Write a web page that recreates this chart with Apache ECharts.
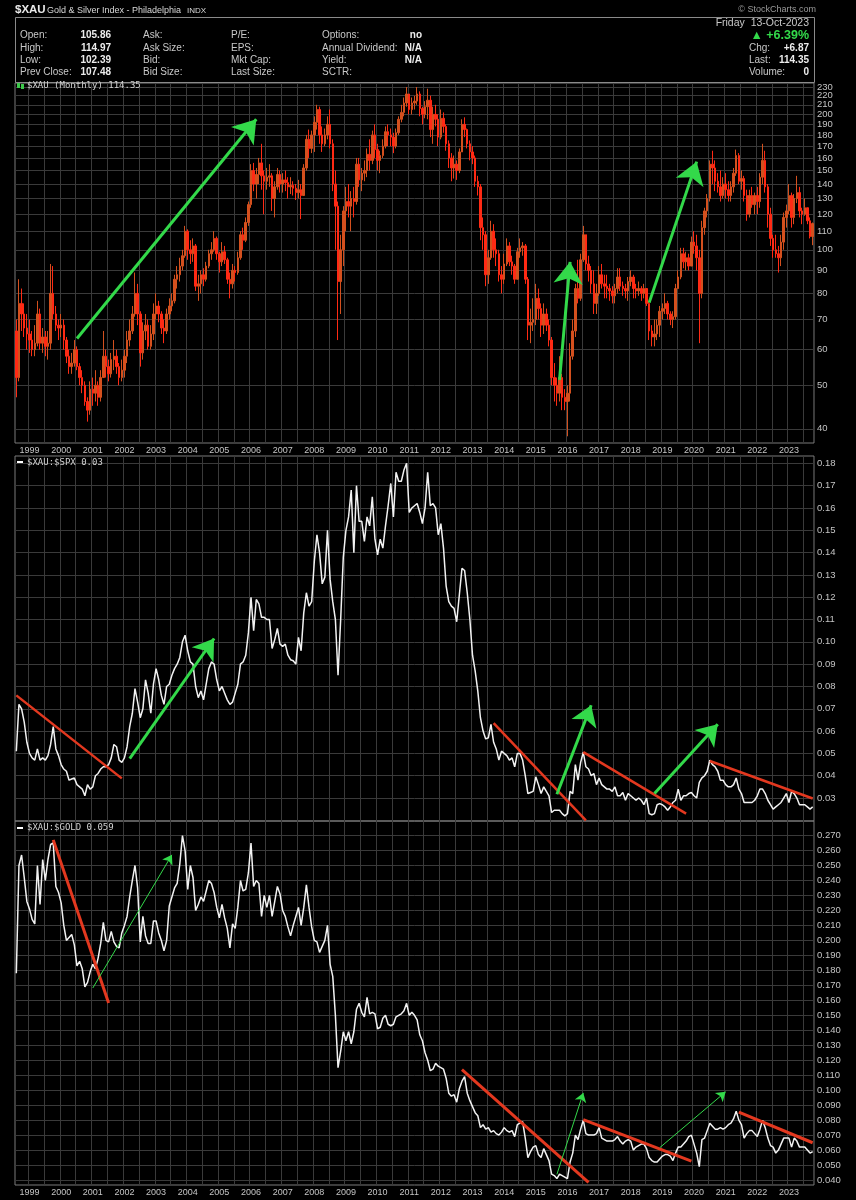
<!DOCTYPE html>
<html><head><meta charset="utf-8">
<script src="https://cdn.jsdelivr.net/npm/echarts@6/dist/echarts.min.js"></script>
<style>html,body{margin:0;padding:0;background:#000;}#c{width:856px;height:1200px;}</style>
</head><body><div id="c"></div><script>
// ---- categories: monthly bars, Aug 1998 .. Oct 2023 ----
const START_YEAR = 1998, START_MONTH = 8, N_MONTHS = 303;
const months = [];
for (let k = 0; k < N_MONTHS; k++) {
  const m = START_MONTH - 1 + k;
  const y = START_YEAR + Math.floor(m / 12), mm = m % 12 + 1;
  months.push(y + '-' + (mm < 10 ? '0' : '') + mm);
}
// ---- $XAU monthly candles (open = previous close) ----
const firstOpen = 66;
const xauClose = [
 52,76,72,67,65,
 63,60,62,72,62,64,61,62,80,72,68,67,
 68,63,58,55,56,60,55,52,50,46,44,49,
 48,50,47,52,58,55,53,57,58,55,52,54,
 58,63,66,72,80,72,59,66,68,61,65,72,
 75,72,67,66,72,75,77,86,88,92,97,110,
 100,98,102,83,84,88,86,92,98,100,106,98,
 94,99,95,86,84,90,89,96,108,105,115,126,
 150,140,147,156,146,142,145,146,130,138,147,140,
 143,141,138,139,137,134,136,132,152,176,168,180,
 192,205,180,172,180,190,172,140,125,85,100,122,
 128,125,130,128,155,143,148,150,163,158,180,167,
 158,162,170,183,180,178,170,182,195,202,212,222,
 205,212,214,222,206,200,208,215,185,200,195,178,
 196,188,172,160,152,155,150,165,190,185,172,165,
 160,142,138,112,108,88,96,110,100,98,88,86,
 93,102,94,92,86,99,101,102,86,68,69,70,
 78,74,68,72,68,63,52,50,48,52,47,46,
 48,58,66,82,78,95,108,93,90,84,76,80,
 88,84,83,82,81,79,82,87,83,82,81,85,
 87,82,81,82,80,82,76,66,64,65,68,73,
 74,76,72,70,71,82,87,98,94,96,92,104,
 102,96,80,112,122,130,155,152,142,138,132,140,
 136,132,138,148,162,142,144,132,120,132,126,132,
 128,145,158,138,120,106,100,98,96,104,118,122,
 132,118,130,134,122,120,124,116,107,114.35
];
const xauHigh = [
 70,86,82,76,72,
 70,66,68,77,74,67,66,66,93,92,75,70,
 72,70,64,60,59,63,61,56,54,51,47,51,
 52,54,51,54,66,60,57,59,63,60,56,57,
 60,66,70,75,89,84,73,69,72,70,68,76,
 80,77,73,70,74,78,80,88,92,96,100,113,
 111,105,106,103,88,90,91,94,100,104,110,107,
 99,104,102,96,89,93,92,99,110,112,118,128,
 155,156,152,160,172,150,152,155,148,142,152,150,
 148,150,145,145,142,140,143,140,155,180,185,184,
 198,210,208,188,186,198,205,176,150,128,108,125,
 138,140,135,138,160,160,152,158,168,176,184,190,
 172,166,176,188,190,186,182,186,198,210,218,230,
 222,218,220,230,225,208,214,228,220,208,210,200,
 205,202,190,175,164,162,158,168,195,197,186,175,
 170,162,146,140,118,110,100,116,114,106,100,92,
 98,106,104,97,93,101,106,104,103,87,74,78,
 84,82,76,76,74,70,64,56,52,58,53,49,
 50,62,70,84,95,98,113,108,97,92,90,84,
 92,93,88,88,84,83,84,91,91,85,84,87,
 90,88,84,85,83,84,82,77,68,70,70,75,
 76,80,77,73,73,84,90,101,101,99,98,107,
 110,108,100,116,124,133,158,166,158,148,150,145,
 148,142,142,152,167,164,150,146,136,136,138,134,
 138,148,172,166,140,124,108,108,102,108,121,126,
 140,134,133,146,138,124,130,124,118,114.97
];
const xauLow = [
 47,51,66,64,60,
 59,58,58,61,60,59,58,57,60,70,66,63,
 64,60,56,53,53,55,54,50,48,45,41.5,43,
 45,46,45,46,52,52,51,52,54,53,50,51,
 52,56,61,65,71,68,55,57,63,60,60,63,
 70,69,65,62,65,70,73,76,82,85,90,96,
 95,93,94,81,77,80,83,85,91,95,99,95,
 89,92,93,84,78,82,85,88,95,100,104,113,
 124,135,130,140,136,120,136,138,122,118,136,134,
 134,135,130,133,132,129,130,117,132,150,160,164,
 165,185,172,165,170,176,168,135,100,63,72,92,
 110,118,110,118,126,138,135,142,145,150,155,160,
 150,148,160,168,170,170,164,168,180,192,198,208,
 200,200,205,210,198,190,196,195,178,172,188,170,
 176,182,166,152,142,144,143,148,165,178,168,158,
 155,138,132,105,100,83,84,95,96,92,85,80,
 84,92,92,88,84,86,96,97,84,63,62,66,
 68,70,64,65,66,61,50,46,45,46,44,44,
 38.5,46,57,64,76,77,94,90,85,80,72,72,
 79,82,78,78,77,76,76,80,81,79,78,77,
 83,78,78,79,77,78,75,63,61,61,63,64,
 70,72,70,68,67,70,82,86,91,90,90,92,
 98,90,62,78,108,118,128,140,135,134,128,130,
 130,128,128,134,146,140,136,128,116,118,124,120,
 120,124,140,134,112,102,96,96,89,92,100,112,
 120,112,114,127,118,114,119,114,106,102.39
];
// ---- $XAU:$SPX ratio ----
const xauSpx = [
 0.051,0.072,0.070,0.064,0.055,
 0.050,0.048,0.047,0.052,0.047,0.048,0.047,0.049,0.054,0.062,0.052,0.049,
 0.045,0.043,0.042,0.038,0.0385,0.039,0.036,0.035,0.034,0.031,0.036,0.034,
 0.035,0.040,0.041,0.043,0.044,0.044,0.045,0.048,0.054,0.053,0.047,0.046,
 0.048,0.053,0.062,0.068,0.079,0.073,0.066,0.070,0.083,0.077,0.068,0.081,
 0.088,0.083,0.076,0.072,0.080,0.081,0.085,0.088,0.090,0.093,0.100,0.103,
 0.096,0.091,0.090,0.080,0.075,0.078,0.074,0.081,0.088,0.091,0.090,0.083,
 0.078,0.080,0.077,0.074,0.072,0.073,0.077,0.081,0.090,0.091,0.094,0.104,
 0.120,0.105,0.119,0.117,0.111,0.111,0.110,0.110,0.097,0.101,0.106,0.099,
 0.098,0.099,0.094,0.092,0.0915,0.090,0.102,0.096,0.113,0.122,0.116,0.118,
 0.136,0.148,0.140,0.126,0.129,0.150,0.128,0.118,0.110,0.085,0.110,0.138,
 0.150,0.156,0.168,0.140,0.170,0.154,0.154,0.145,0.156,0.152,0.165,0.146,
 0.139,0.146,0.142,0.152,0.161,0.171,0.156,0.176,0.172,0.172,0.177,0.180,
 0.158,0.160,0.161,0.162,0.158,0.153,0.160,0.176,0.161,0.162,0.160,0.148,
 0.153,0.142,0.125,0.118,0.116,0.115,0.109,0.121,0.133,0.132,0.122,0.110,
 0.094,0.087,0.078,0.066,0.060,0.0565,0.057,0.063,0.055,0.052,0.047,0.051,
 0.050,0.049,0.047,0.048,0.044,0.050,0.050,0.047,0.040,0.032,0.0325,0.033,
 0.0395,0.036,0.032,0.035,0.033,0.031,0.0235,0.0245,0.0245,0.0245,0.023,0.022,
 0.023,0.033,0.032,0.045,0.038,0.046,0.0505,0.044,0.043,0.040,0.041,0.036,
 0.039,0.036,0.035,0.034,0.034,0.033,0.035,0.031,0.031,0.0325,0.029,0.032,
 0.031,0.030,0.029,0.030,0.029,0.027,0.030,0.023,0.0225,0.023,0.027,0.0275,
 0.027,0.026,0.0245,0.026,0.028,0.029,0.034,0.029,0.031,0.031,0.032,0.0325,
 0.031,0.030,0.037,0.039,0.040,0.042,0.047,0.045,0.044,0.042,0.038,0.038,
 0.036,0.035,0.035,0.036,0.039,0.034,0.032,0.028,0.028,0.028,0.028,0.029,
 0.031,0.034,0.034,0.032,0.029,0.027,0.025,0.026,0.027,0.028,0.030,0.032,
 0.028,0.033,0.032,0.030,0.027,0.027,0.027,0.026,0.025,0.026
];
// ---- $XAU:$GOLD ratio ----
const xauGold = [
 0.178,0.250,0.257,0.242,0.226,
 0.221,0.214,0.211,0.250,0.224,0.254,0.240,0.254,0.264,0.265,0.236,0.232,
 0.225,0.210,0.200,0.202,0.204,0.197,0.183,0.186,0.181,0.169,0.172,0.179,
 0.184,0.181,0.188,0.198,0.212,0.200,0.199,0.206,0.199,0.196,0.195,0.205,
 0.210,0.216,0.229,0.240,0.250,0.235,0.199,0.216,0.203,0.198,0.198,0.213,
 0.213,0.205,0.200,0.193,0.200,0.223,0.229,0.235,0.238,0.251,0.270,0.260,
 0.234,0.250,0.242,0.220,0.224,0.229,0.226,0.233,0.240,0.238,0.232,0.222,
 0.215,0.224,0.215,0.208,0.195,0.211,0.208,0.222,0.240,0.233,0.234,0.245,
 0.265,0.236,0.240,0.238,0.216,0.230,0.222,0.230,0.216,0.226,0.236,0.231,
 0.220,0.216,0.209,0.203,0.210,0.216,0.222,0.210,0.222,0.237,0.222,0.209,
 0.200,0.199,0.192,0.196,0.200,0.210,0.184,0.176,0.150,0.115,0.126,0.139,
 0.133,0.139,0.131,0.139,0.154,0.158,0.152,0.149,0.162,0.151,0.152,0.151,
 0.141,0.142,0.148,0.150,0.144,0.143,0.144,0.149,0.150,0.151,0.153,0.158,
 0.150,0.152,0.150,0.147,0.137,0.133,0.125,0.120,0.113,0.114,0.118,0.116,
 0.115,0.114,0.108,0.098,0.096,0.097,0.092,0.101,0.106,0.109,0.098,0.093,
 0.089,0.085,0.083,0.075,0.077,0.074,0.075,0.072,0.073,0.071,0.070,0.072,
 0.075,0.073,0.072,0.073,0.069,0.077,0.078,0.079,0.068,0.055,0.059,0.062,
 0.063,0.057,0.055,0.061,0.057,0.053,0.044,0.043,0.041,0.044,0.043,0.042,
 0.041,0.052,0.058,0.070,0.067,0.074,0.080,0.071,0.070,0.070,0.070,0.071,
 0.075,0.068,0.067,0.066,0.066,0.066,0.067,0.069,0.066,0.064,0.066,0.067,
 0.066,0.060,0.062,0.063,0.064,0.064,0.061,0.055,0.053,0.052,0.052,0.054,
 0.056,0.057,0.057,0.056,0.053,0.058,0.062,0.062,0.064,0.066,0.069,0.070,
 0.064,0.058,0.049,0.067,0.068,0.073,0.078,0.076,0.074,0.074,0.075,0.074,
 0.075,0.077,0.078,0.081,0.086,0.080,0.077,0.068,0.071,0.073,0.073,0.071,
 0.069,0.074,0.080,0.075,0.068,0.063,0.062,0.058,0.060,0.064,0.068,0.068,
 0.068,0.062,0.068,0.066,0.062,0.062,0.062,0.060,0.058,0.059
];
// ---- axis tick labels ----
const priceTicks = [40,50,60,70,80,90,100,110,120,130,140,150,160,170,180,190,200,210,220,230];
const spxTicks = [0.03,0.04,0.05,0.06,0.07,0.08,0.09,0.10,0.11,0.12,0.13,0.14,0.15,0.16,0.17,0.18];
const goldTicks = [0.04,0.05,0.06,0.07,0.08,0.09,0.10,0.11,0.12,0.13,0.14,0.15,0.16,0.17,0.18,0.19,0.20,0.21,0.22,0.23,0.24,0.25,0.26,0.27];
// ---- annotations (start [month, value], end [month, value]) ----
const priceArrows = [
  [['2000-07', 63.5], ['2006-03', 195]],
  [['2015-10', 51.4], ['2016-02', 94]],
  [['2018-08', 76.3], ['2020-02', 157]]
];
const spxRedLines = [
  [['1998-08', 0.076], ['2001-12', 0.0388]],
  [['2013-09', 0.0636], ['2016-08', 0.020]],
  [['2016-07', 0.0506], ['2019-10', 0.023]],
  [['2020-07', 0.0466], ['2023-10', 0.0298]]
];
const spxArrows = [
  [['2002-03', 0.0477], ['2004-11', 0.1015]],
  [['2015-09', 0.0317], ['2016-10', 0.0716]],
  [['2018-10', 0.032], ['2020-10', 0.0631]]
];
const goldRedLines = [
  [['1999-10', 0.2671], ['2001-07', 0.1582]],
  [['2012-09', 0.1138], ['2016-09', 0.0385]],
  [['2016-07', 0.0804], ['2019-12', 0.0527]],
  [['2021-06', 0.0853], ['2023-10', 0.0649]]
];
const goldArrows = [
  [['2001-01', 0.1682], ['2003-07', 0.2571]],
  [['2015-09', 0.0438], ['2016-07', 0.0982]],
  [['2018-12', 0.0616], ['2021-01', 0.0989]]
];

const candles = xauClose.map((c, i) => [i === 0 ? firstOpen : xauClose[i - 1], c, xauLow[i], xauHigh[i]]);

const GREEN = '#33d94a', RED = '#e3381f', GRID = '#3a3a3a', AXT = '#c4c4c4';
function segs(list, color, width, headSize) {
  return list.map(s => [
    { coord: s[0], symbol: 'none', lineStyle: { color, width, type: 'solid' } },
    { coord: s[1], symbol: headSize ? 'arrow' : 'none', symbolSize: headSize || 0 }
  ]);
}
function mk(data) {
  return { silent: true, animation: false, label: { show: false }, lineStyle: { type: 'solid' },
    emphasis: { disabled: true }, symbol: ['none', 'none'], data };
}
// price-axis labels, placed at their log-scale values via transparent horizontal mark lines
const priceLabelLines = priceTicks.map(v => ({
  yAxis: v, symbol: 'none', lineStyle: { color: 'rgba(0,0,0,0)', width: 1 },
  label: { show: true, position: 'end', distance: 3, formatter: String(v), color: AXT,
    fontSize: 9.5, fontFamily: 'Liberation Sans' }
}));
function xAxis(gi, showLabel) {
  return {
    type: 'category', gridIndex: gi, data: months, boundaryGap: true,
    axisLine: { show: false }, axisTick: { show: false },
    axisLabel: { show: showLabel, interval: (i, v) => v.endsWith('-01'), formatter: v => v.slice(0, 4),
      color: AXT, fontSize: 9, margin: 3, fontFamily: 'Liberation Sans' },
    splitLine: { show: true, interval: (i, v) => v.endsWith('-01') || v.endsWith('-07'),
      lineStyle: { color: GRID, width: 1 } }
  };
}
function yAxis(gi, opts, ticks, fmt, showLabel) {
  return Object.assign({
    gridIndex: gi, position: 'right', scale: true,
    axisLine: { show: false },
    axisTick: { show: false, customValues: ticks },
    axisLabel: { show: showLabel, customValues: ticks, formatter: fmt, color: AXT, fontSize: 9.5, margin: 3,
      fontFamily: 'Liberation Sans', hideOverlap: false },
    splitLine: { show: true, lineStyle: { color: GRID, width: 1 } }
  }, opts);
}

const F = (s, w) => (w || '') + ' ' + s + 'px "Liberation Sans"';
const T = (x, y, text, st) => ({ type: 'text', x, y, silent: true, z: 100,
  style: Object.assign({ text, fill: '#c8c8c8', font: F(10), align: 'left', verticalAlign: 'middle' }, st || {}) });
const B = '#ececec';
const bold = { fill: B, font: F(10, 'bold'), align: 'right' };
const graphic = [
  T(15, 10, '$XAU', { fill: '#e8e8e8', font: F(11.5, 'bold') }),
  T(47, 11, 'Gold & Silver Index - Philadelphia', { font: F(9), fill: '#d8d8d8' }),
  T(187, 11, 'INDX', { font: F(8), fill: '#d8d8d8' }),
  T(816, 10, '© StockCharts.com', { font: F(9), fill: '#9a9a9a', align: 'right' }),
  { type: 'rect', shape: { x: 15.5, y: 17.5, width: 799, height: 65 }, silent: true, z: 100,
    style: { fill: 'none', stroke: '#8a8a8a', lineWidth: 1 } },
  T(20, 35, 'Open:'), T(111, 35, '105.86', bold),
  T(20, 48, 'High:'), T(111, 48, '114.97', bold),
  T(20, 60.5, 'Low:'), T(111, 60.5, '102.39', bold),
  T(20, 72.5, 'Prev Close:'), T(111, 72.5, '107.48', bold),
  T(143, 35, 'Ask:'), T(143, 48, 'Ask Size:'), T(143, 60.5, 'Bid:'), T(143, 72.5, 'Bid Size:'),
  T(231, 35, 'P/E:'), T(231, 48, 'EPS:'), T(231, 60.5, 'Mkt Cap:'), T(231, 72.5, 'Last Size:'),
  T(322, 35, 'Options:'), T(422, 35, 'no', bold),
  T(322, 48, 'Annual Dividend:'), T(422, 48, 'N/A', bold),
  T(322, 60.5, 'Yield:'), T(422, 60.5, 'N/A', bold),
  T(322, 72.5, 'SCTR:'),
  T(809, 23, 'Friday  13-Oct-2023', { align: 'right', font: F(10.5) }),
  T(809, 35.5, '▲ +6.39%', { fill: GREEN, font: F(12.5, 'bold'), align: 'right' }),
  T(749, 48, 'Chg:'), T(809, 48, '+6.87', bold),
  T(749, 60.5, 'Last:'), T(809, 60.5, '114.35', bold),
  T(749, 72.5, 'Volume:'), T(809, 72.5, '0', bold),
  { type: 'rect', shape: { x: 17, y: 83, width: 3, height: 5 }, style: { fill: '#3cc84a' }, z: 100, silent: true },
  { type: 'rect', shape: { x: 21, y: 84, width: 3, height: 5 }, style: { fill: '#3cc84a' }, z: 100, silent: true },
  T(27, 86, '$XAU (Monthly) 114.35', { font: '9px "DejaVu Sans Mono"', fill: '#d0d0d0' }),
  { type: 'rect', shape: { x: 17, y: 461, width: 6, height: 2 }, style: { fill: '#ffffff' }, z: 100, silent: true },
  T(27, 462.5, '$XAU:$SPX 0.03', { font: '9px "DejaVu Sans Mono"', fill: '#d0d0d0' }),
  { type: 'rect', shape: { x: 17, y: 827, width: 6, height: 2 }, style: { fill: '#ffffff' }, z: 100, silent: true },
  T(27, 828, '$XAU:$GOLD 0.059', { font: '9px "DejaVu Sans Mono"', fill: '#d0d0d0' })
];

const chart = echarts.init(document.getElementById('c'), null, { renderer: 'canvas' });
chart.setOption({
  backgroundColor: '#000',
  animation: false,
  graphic,
  grid: [
    { left: 15, top: 83, width: 799, height: 360, show: true, borderColor: '#7a7a7a', borderWidth: 1 },
    { left: 15, top: 456, width: 799, height: 365, show: true, borderColor: '#7a7a7a', borderWidth: 1 },
    { left: 15, top: 821, width: 799, height: 364, show: true, borderColor: '#7a7a7a', borderWidth: 1 }
  ],
  xAxis: [xAxis(0, true), xAxis(1, false), xAxis(2, true)],
  yAxis: [
    yAxis(0, { type: 'log', logBase: 10, min: 37.2, max: 234.8 }, priceTicks, v => String(Math.round(v)), false),
    yAxis(1, { type: 'value', min: 0.0197, max: 0.1833 }, spxTicks, v => v.toFixed(2), true),
    yAxis(2, { type: 'value', min: 0.0367, max: 0.2797 }, goldTicks, v => v.toFixed(3), true)
  ],
  series: [
    { type: 'candlestick', xAxisIndex: 0, yAxisIndex: 0, data: candles, barWidth: 2,
      itemStyle: { color: '#d4501e', color0: '#ff2a14', borderColor: '#d4501e', borderColor0: '#ff2a14', borderWidth: 1 },
      markLine: mk(segs(priceArrows, GREEN, 3, 22).concat(priceLabelLines)) },
    { type: 'line', xAxisIndex: 1, yAxisIndex: 1, data: xauSpx, symbol: 'none',
      lineStyle: { color: '#f2f2f2', width: 1.5 },
      markLine: mk(segs(spxRedLines, RED, 2.5, 0).concat(segs(spxArrows, GREEN, 3, 20))) },
    { type: 'line', xAxisIndex: 2, yAxisIndex: 2, data: xauGold, symbol: 'none',
      lineStyle: { color: '#f2f2f2', width: 1.5 },
      markLine: mk(segs(goldRedLines, RED, 3, 0).concat(segs(goldArrows, GREEN, 1, 9))) }
  ]
});
</script></body></html>
